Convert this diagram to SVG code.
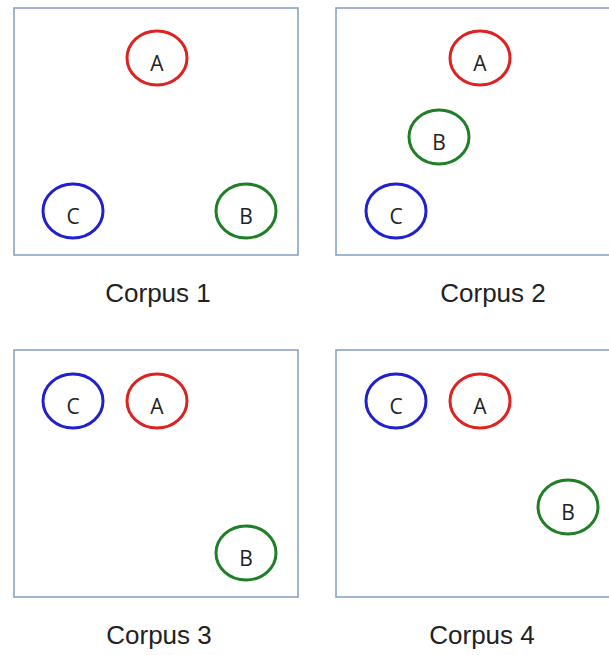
<svg xmlns="http://www.w3.org/2000/svg" width="609" height="655" viewBox="0 0 609 655">
<style>
.box{fill:#fff;stroke:#8aa2c6;stroke-width:1.6}
.n{fill:none;stroke-width:3}
.a{stroke:#dd2222}
.b{stroke:#1f7f25}
.c{stroke:#2020cc}
.nl{font-family:"Open Sans","Liberation Sans",sans-serif;font-size:21px;fill:#222;text-anchor:middle}
.cap{font-family:"Liberation Sans",Arial,sans-serif;font-size:26px;fill:#222;text-anchor:middle}
</style>
<rect width="609" height="655" fill="#fff"/>
<g id="corpus1">
<rect class="box" x="14" y="8" width="284" height="247"/>
<text class="cap" x="158" y="302">Corpus 1</text>
<g id="c1-A"><ellipse class="n a" cx="157" cy="58" rx="30" ry="27"/><text class="nl" x="157" y="71">A</text></g>
<g id="c1-B"><ellipse class="n b" cx="246" cy="211" rx="30" ry="27"/><text class="nl" x="246" y="224">B</text></g>
<g id="c1-C"><ellipse class="n c" cx="73" cy="211" rx="30" ry="27"/><text class="nl" x="73" y="224">C</text></g>
</g>
<g id="corpus2">
<rect class="box" x="336" y="8" width="284" height="247"/>
<text class="cap" x="493" y="302">Corpus 2</text>
<g id="c2-A"><ellipse class="n a" cx="480" cy="58" rx="30" ry="27"/><text class="nl" x="480" y="71">A</text></g>
<g id="c2-B"><ellipse class="n b" cx="439" cy="137" rx="30" ry="27"/><text class="nl" x="439" y="150">B</text></g>
<g id="c2-C"><ellipse class="n c" cx="396" cy="211" rx="30" ry="27"/><text class="nl" x="396" y="224">C</text></g>
</g>
<g id="corpus3">
<rect class="box" x="14" y="350" width="284" height="247"/>
<text class="cap" x="159" y="644">Corpus 3</text>
<g id="c3-A"><ellipse class="n a" cx="157" cy="401" rx="30" ry="27"/><text class="nl" x="157" y="414">A</text></g>
<g id="c3-B"><ellipse class="n b" cx="246" cy="553" rx="30" ry="27"/><text class="nl" x="246" y="566">B</text></g>
<g id="c3-C"><ellipse class="n c" cx="73" cy="401" rx="30" ry="27"/><text class="nl" x="73" y="414">C</text></g>
</g>
<g id="corpus4">
<rect class="box" x="336" y="350" width="284" height="247"/>
<text class="cap" x="482" y="644">Corpus 4</text>
<g id="c4-A"><ellipse class="n a" cx="480" cy="401" rx="30" ry="27"/><text class="nl" x="480" y="414">A</text></g>
<g id="c4-B"><ellipse class="n b" cx="568" cy="507" rx="30" ry="27"/><text class="nl" x="568" y="520">B</text></g>
<g id="c4-C"><ellipse class="n c" cx="396" cy="401" rx="30" ry="27"/><text class="nl" x="396" y="414">C</text></g>
</g>
<g id="connectors"/>
</svg>
